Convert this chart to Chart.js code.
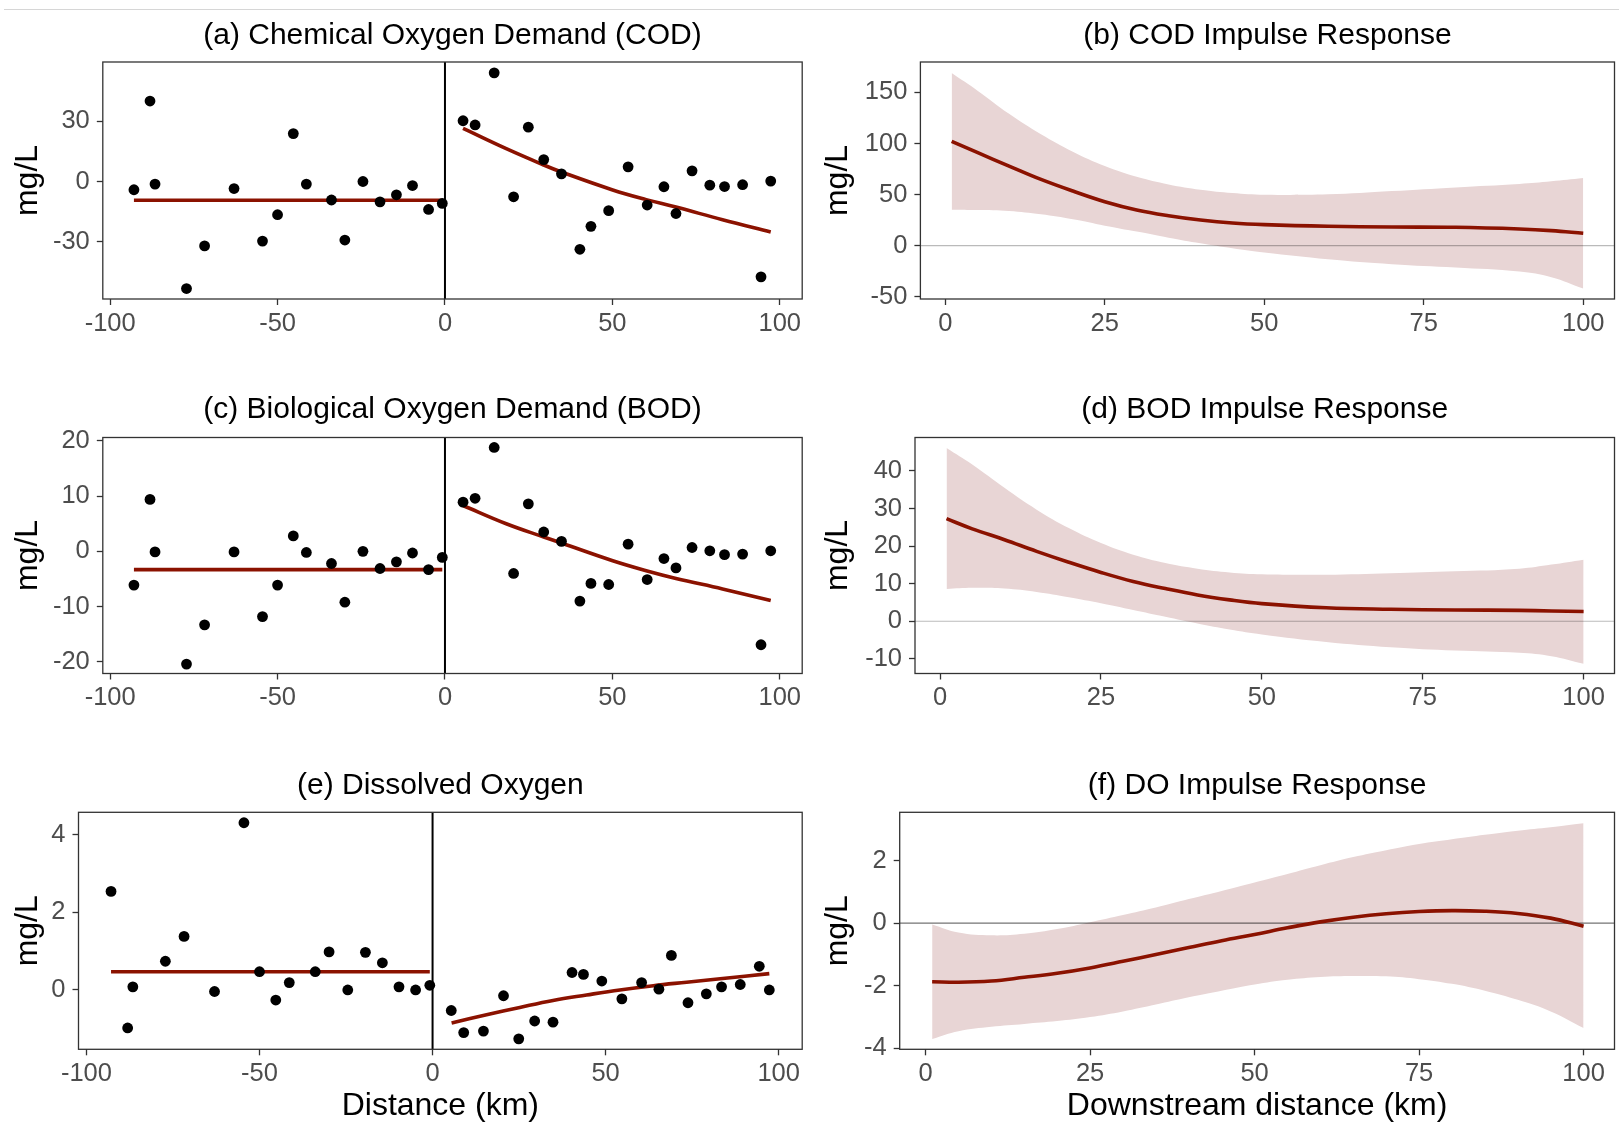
<!DOCTYPE html>
<html>
<head>
<meta charset="utf-8">
<script src="https://cdn.jsdelivr.net/npm/chart.js@4.4.1/dist/chart.umd.min.js"></script>
<style>
html, body { margin: 0; padding: 0; background: #ffffff; }
#wrap { position: relative; width: 1619px; height: 1123px; overflow: hidden; background: #ffffff; }
#topline { position: absolute; left: 4px; top: 9px; width: 1615px; height: 1px; background: #d6d6d6; }
canvas { position: absolute; }
</style>
</head>
<body>
<div id="wrap">
  <div id="topline"></div>
  <canvas id="cA"></canvas>
  <canvas id="cB"></canvas>
  <canvas id="cC"></canvas>
  <canvas id="cD"></canvas>
  <canvas id="cE"></canvas>
  <canvas id="cF"></canvas>
</div>
<script>
// ---------------- DATA ----------------
const upstreamKm = [-92.9, -88.1, -86.6, -77.2, -71.8, -63.0, -54.5, -50.0, -45.3, -41.4, -33.9, -29.9, -24.5, -19.4, -14.5, -9.7, -4.9, -0.8];
const downstreamKm = [5.4, 9.0, 14.7, 20.5, 24.9, 29.5, 34.8, 40.3, 43.6, 48.9, 54.7, 60.4, 65.4, 69.0, 73.8, 79.1, 83.5, 88.9, 94.4, 97.3];

const codUp = [-4.1, 40.0, -1.3, -53.2, -32.0, -3.5, -29.6, -16.5, 23.8, -1.3, -9.2, -29.1, 0.0, -10.1, -6.6, -2.0, -13.9, -10.9];
const codDown = [30.2, 28.1, 54.0, -7.6, 27.0, 10.9, 3.8, -33.7, -22.3, -14.5, 7.3, -11.7, -2.6, -15.9, 5.3, -1.8, -2.5, -1.6, -47.4, 0.2];
const bodUp = [-6.1, 9.4, -0.1, -20.4, -13.3, -0.1, -11.8, -6.1, 2.8, -0.2, -2.2, -9.2, 0.0, -3.1, -1.9, -0.3, -3.3, -1.1];
const bodDown = [8.9, 9.6, 18.8, -4.0, 8.6, 3.5, 1.8, -9.0, -5.8, -6.0, 1.3, -5.1, -1.3, -3.0, 0.7, 0.1, -0.6, -0.5, -16.9, 0.1];
const doUp = [2.54, -0.98, 0.08, 0.74, 1.38, -0.04, 4.31, 0.47, -0.26, 0.19, 0.47, 0.98, 0.0, 0.97, 0.70, 0.08, 0.0, 0.12];
const doDown = [-0.53, -1.10, -1.06, -0.15, -1.26, -0.80, -0.83, 0.45, 0.40, 0.23, -0.23, 0.19, 0.02, 0.89, -0.33, -0.10, 0.08, 0.14, 0.61, 0.0];

// fitted lines (upstream flat, downstream curve)
const upFitKm = [-92.9, -0.8];
const codUpFit = [-9.3, -9.3];
const bodUpFit = [-3.3, -3.3];
const doUpFit = [0.47, 0.47];
const downFitKm = [5.4, 18.3, 29.5, 34.8, 50.1, 60.1, 69.0, 82.9, 97.3];
const codDownFit = [26.4, 16.3, 8.2, 4.7, -4.2, -9.0, -12.7, -19.0, -25.1];
const bodDownFit = [8.3, 5.0, 2.6, 1.5, -1.7, -3.5, -4.9, -6.8, -8.9];
const doDownFitKm = [5.5, 15.6, 25.2, 34.8, 44.5, 54.1, 63.8, 73.4, 83.1, 97.3];
const doDownFit = [-0.85, -0.64, -0.45, -0.27, -0.13, 0.0, 0.11, 0.20, 0.29, 0.42];

// impulse responses
const irKm = [1, 5, 10, 15, 20, 25, 30, 35, 40, 45, 50, 60, 70, 80, 90, 95, 100];
const codIR = [102.0, 91.2, 77.9, 64.8, 53.4, 43.0, 34.9, 29.3, 25.1, 22.1, 20.5, 18.9, 18.2, 17.9, 16.3, 14.7, 12.1];
const codIRHi = [169.0, 152.0, 129.0, 109.0, 91.9, 77.9, 67.4, 59.9, 54.7, 51.5, 49.8, 50.2, 53.4, 57.0, 60.3, 62.9, 66.1];
const codIRLo = [35.2, 34.9, 33.9, 30.6, 25.7, 19.5, 13.7, 7.8, 2.3, -2.6, -6.8, -13.4, -18.2, -21.5, -25.4, -30.9, -42.0];
const bodIR = [27.3, 24.6, 21.7, 18.6, 15.7, 13.0, 10.6, 8.7, 7.0, 5.7, 4.7, 3.6, 3.2, 3.0, 2.9, 2.75, 2.6];
const bodIRHi = [46.1, 41.7, 35.5, 29.7, 24.8, 20.8, 17.7, 15.5, 14.0, 13.0, 12.5, 12.4, 12.8, 13.3, 14.0, 15.1, 16.4];
const bodIRLo = [8.6, 8.9, 8.7, 7.8, 6.4, 4.8, 3.0, 1.2, -0.6, -2.2, -3.5, -5.5, -6.9, -7.8, -8.4, -9.3, -11.3];
const doIrKm = [1, 5, 10, 15, 20, 25, 30, 35, 40, 45, 50, 55, 60, 65, 70, 75, 80, 85, 90, 95, 100];
const doIR = [-1.87, -1.89, -1.85, -1.73, -1.60, -1.43, -1.22, -1.00, -0.78, -0.56, -0.36, -0.15, 0.04, 0.19, 0.30, 0.37, 0.40, 0.38, 0.31, 0.16, -0.10];
const doIRHi = [-0.04, -0.30, -0.39, -0.34, -0.19, 0.03, 0.26, 0.50, 0.77, 1.03, 1.30, 1.57, 1.85, 2.11, 2.33, 2.53, 2.68, 2.82, 2.95, 3.06, 3.19];
const doIRLo = [-3.70, -3.45, -3.31, -3.22, -3.13, -3.00, -2.82, -2.60, -2.37, -2.16, -1.96, -1.81, -1.72, -1.69, -1.70, -1.79, -1.94, -2.16, -2.45, -2.82, -3.35];

// axis ticks and limits
const distTicks = [-100, -50, 0, 50, 100];
const downTicks = [0, 25, 50, 75, 100];
const codTicks = [-30, 0, 30];
const bodTicks = [-20, -10, 0, 10, 20];
const doTicks = [0, 2, 4];
const codIRTicks = [-50, 0, 50, 100, 150];
const bodIRTicks = [-10, 0, 10, 20, 30, 40];
const doIRTicks = [-4, -2, 0, 2];

const titles = ['(a) Chemical Oxygen Demand (COD)', '(b) COD Impulse Response',
  '(c) Biological Oxygen Demand (BOD)', '(d) BOD Impulse Response',
  '(e) Dissolved Oxygen', '(f) DO Impulse Response'];
const yTitle = 'mg/L';
const xTitleLeft = 'Distance (km)';
const xTitleRight = 'Downstream distance (km)';

// ---------------- STYLE / LAYOUT ----------------
const FONT = "'Liberation Sans', Arial, Helvetica, sans-serif";
const RED = '#8B1200';
const BAND = 'rgb(232,213,213)';
const TITLE_SIZE = 30;
const AXIS_TITLE_SIZE = 32;
const TICK_SIZE = 25.5;
const FIT_WIDTH = 3.6;

const G = {
  cA: {x: 0, y: 0, w: 810, h: 370, left: 102.8, right: 802.2, top: 62.0, bottom: 299.0, titleMid: 35.3},
  cB: {x: 810, y: 0, w: 809, h: 370, left: 920.4, right: 1614.5, top: 62.0, bottom: 299.0, titleMid: 35.3},
  cC: {x: 0, y: 375, w: 810, h: 370, left: 102.8, right: 802.2, top: 437.5, bottom: 673.5, titleMid: 409.5},
  cD: {x: 810, y: 375, w: 809, h: 370, left: 915.0, right: 1614.5, top: 437.5, bottom: 673.5, titleMid: 409.5},
  cE: {x: 0, y: 750, w: 810, h: 378, left: 78.5, right: 802.2, top: 812.3, bottom: 1049.3, titleMid: 786.2},
  cF: {x: 810, y: 750, w: 809, h: 378, left: 899.7, right: 1614.5, top: 812.3, bottom: 1049.3, titleMid: 786.2}
};

Chart.defaults.font.family = FONT;

function xy(xs, ys) { return xs.map((x, i) => ({x: x, y: ys[i]})); }

const framePlugin = {
  id: 'frame',
  afterDatasetsDraw(chart) {
    const ctx = chart.ctx, a = chart.chartArea;
    ctx.save();
    ctx.strokeStyle = '#333333';
    ctx.lineWidth = 1.3;
    ctx.strokeRect(a.left, a.top, a.right - a.left, a.bottom - a.top);
    ctx.restore();
  }
};

function pointsDs(xs, ys) {
  return {data: xy(xs, ys), showLine: false, pointRadius: 5.4, pointHoverRadius: 5.4,
    pointBackgroundColor: '#000', pointBorderWidth: 0, pointBorderColor: 'rgba(0,0,0,0)', order: 0};
}
function lineDs(xs, ys, color, width, order) {
  return {data: xy(xs, ys), borderColor: color, borderWidth: width, pointRadius: 0,
    fill: false, tension: 0.4, order: order};
}

function axisCommon(range, ticks, extra) {
  return Object.assign({
    type: 'linear', min: range[0], max: range[1],
    afterBuildTicks: s => { s.ticks = ticks.map(v => ({value: v})); },
    grid: {display: true, drawOnChartArea: false, drawTicks: true, tickLength: 6,
      tickColor: '#333333', tickWidth: 1.3},
    border: {display: false},
    ticks: {autoSkip: false, maxRotation: 0, minRotation: 0, color: '#4D4D4D',
      font: {family: FONT, size: TICK_SIZE, lineHeight: 1.2},
      callback: v => String(v)}
  }, extra || {});
}

function makeChart(id, datasets, xr, yr, xTicks, yTicks, title, xTitle) {
  const g = G[id];
  const canvas = document.getElementById(id);
  canvas.width = g.w; canvas.height = g.h;
  canvas.style.left = g.x + 'px'; canvas.style.top = g.y + 'px';
  canvas.style.width = g.w + 'px'; canvas.style.height = g.h + 'px';
  const tLH = 1.2 * TITLE_SIZE;
  const padTop = (g.titleMid - g.y) - tLH / 2;
  const padBottom = (g.top - g.y) - padTop - tLH;
  const xAxis = axisCommon(xr, xTicks, {
    afterFit: s => { s.height = g.y + g.h - g.bottom; },
    title: {display: !!xTitle, text: xTitle || '', color: '#000',
      font: {family: FONT, size: AXIS_TITLE_SIZE, lineHeight: 1.2}, padding: {top: 0, bottom: 2.2}}
  });
  xAxis.ticks.padding = 3.5;
  const yAxis = axisCommon(yr, yTicks, {
    afterFit: s => { s.width = g.left - g.x; },
    title: {display: true, text: yTitle, color: '#000',
      font: {family: FONT, size: AXIS_TITLE_SIZE, lineHeight: 1.2}, padding: {top: 8.9, bottom: 0}}
  });
  yAxis.ticks.padding = 7;
  return new Chart(canvas, {
    type: 'line',
    data: {datasets: datasets},
    options: {
      responsive: false, animation: false, devicePixelRatio: 1,
      events: [],
      layout: {padding: {left: 0, right: g.x + g.w - g.right, top: 0, bottom: 0}},
      plugins: {
        legend: {display: false},
        tooltip: {enabled: false},
        title: {display: true, text: title, fullSize: false, color: '#000', align: 'center',
          font: {family: FONT, size: TITLE_SIZE, weight: 'normal', lineHeight: 1.2},
          padding: {top: padTop, bottom: padBottom}}
      },
      scales: {x: xAxis, y: yAxis}
    },
    plugins: [framePlugin]
  });
}

function leftPanel(id, up, down, upFit, dFitKm, dFit, yr, yTicks, title, xTitle) {
  const xr = id === 'cE' ? [-102.3, 106.8] : [-102.2, 106.7];
  const ds = [
    pointsDs(upstreamKm, up),
    pointsDs(downstreamKm, down),
    lineDs(upFitKm, upFit, RED, FIT_WIDTH, 1),
    lineDs(dFitKm, dFit, RED, FIT_WIDTH, 1),
    lineDs([0, 0], [yr[0], yr[1]], '#000000', 2, 2)
  ];
  makeChart(id, ds, xr, yr, distTicks, yTicks, title, xTitle);
}

function rightPanel(id, km, mid, hi, lo, xr, yr, yTicks, title, zeroColor, xTitle) {
  const ds = [
    lineDs(km, mid, RED, FIT_WIDTH, 1),
    lineDs([xr[0], xr[1]], [0, 0], zeroColor, 1.2, 2),
    Object.assign(lineDs(km, hi, 'rgba(0,0,0,0)', 1, 3), {fill: '+1', backgroundColor: BAND}),
    lineDs(km, lo, 'rgba(0,0,0,0)', 1, 4)
  ];
  makeChart(id, ds, xr, yr, downTicks, yTicks, title, xTitle);
}

leftPanel('cA', codUp, codDown, codUpFit, downFitKm, codDownFit, [-58.4, 59.4], codTicks, titles[0], null);
leftPanel('cC', bodUp, bodDown, bodUpFit, downFitKm, bodDownFit, [-22.1, 20.6], bodTicks, titles[2], null);
leftPanel('cE', doUp, doDown, doUpFit, doDownFitKm, doDownFit, [-1.53, 4.58], doTicks, titles[4], xTitleLeft);
rightPanel('cB', irKm, codIR, codIRHi, codIRLo, [-3.9, 104.9], [-52.3, 179.8], codIRTicks, titles[1], 'rgba(0,0,0,0.27)', null);
rightPanel('cD', irKm, bodIR, bodIRHi, bodIRLo, [-3.9, 104.8], [-13.9, 48.9], bodIRTicks, titles[3], 'rgba(0,0,0,0.27)', null);
rightPanel('cF', doIrKm, doIR, doIRHi, doIRLo, [-3.93, 104.7], [-4.03, 3.54], doIRTicks, titles[5], 'rgba(0,0,0,0.55)', xTitleRight);
</script>
</body>
</html>
